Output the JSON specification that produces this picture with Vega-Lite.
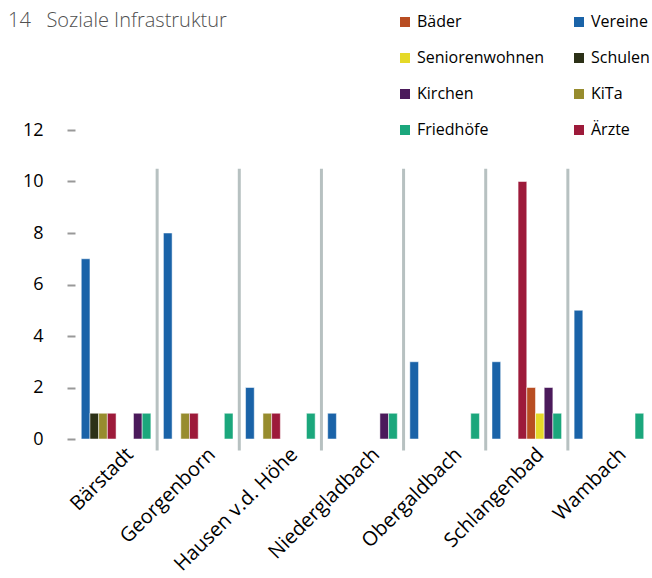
{
  "$schema": "https://vega.github.io/schema/vega-lite/v6.json",
  "width": 575,
  "height": 309,
  "autosize": {"type": "none"},
  "padding": {"left": 75, "top": 130, "right": 2, "bottom": 139},
  "title": {
    "text": "14\u00a0\u00a0\u00a0Soziale Infrastruktur",
    "anchor": "start",
    "frame": "group",
    "dx": -67,
    "dy": 17,
    "font": "Open Sans",
    "fontSize": 20,
    "fontWeight": 300,
    "color": "#505050",
    "offset": 0
  },
  "config": {
    "view": {"stroke": null},
    "font": "Open Sans"
  },
  "data": {
    "values": [
      {"Ort": "Bärstadt", "Kategorie": "Vereine", "Anzahl": 7},
      {"Ort": "Bärstadt", "Kategorie": "Schulen", "Anzahl": 1},
      {"Ort": "Bärstadt", "Kategorie": "KiTa", "Anzahl": 1},
      {"Ort": "Bärstadt", "Kategorie": "Ärzte", "Anzahl": 1},
      {"Ort": "Bärstadt", "Kategorie": "Kirchen", "Anzahl": 1},
      {"Ort": "Bärstadt", "Kategorie": "Friedhöfe", "Anzahl": 1},
      {"Ort": "Georgenborn", "Kategorie": "Vereine", "Anzahl": 8},
      {"Ort": "Georgenborn", "Kategorie": "KiTa", "Anzahl": 1},
      {"Ort": "Georgenborn", "Kategorie": "Ärzte", "Anzahl": 1},
      {"Ort": "Georgenborn", "Kategorie": "Friedhöfe", "Anzahl": 1},
      {"Ort": "Hausen v.d. Höhe", "Kategorie": "Vereine", "Anzahl": 2},
      {"Ort": "Hausen v.d. Höhe", "Kategorie": "KiTa", "Anzahl": 1},
      {"Ort": "Hausen v.d. Höhe", "Kategorie": "Ärzte", "Anzahl": 1},
      {"Ort": "Hausen v.d. Höhe", "Kategorie": "Friedhöfe", "Anzahl": 1},
      {"Ort": "Niedergladbach", "Kategorie": "Vereine", "Anzahl": 1},
      {"Ort": "Niedergladbach", "Kategorie": "Kirchen", "Anzahl": 1},
      {"Ort": "Niedergladbach", "Kategorie": "Friedhöfe", "Anzahl": 1},
      {"Ort": "Obergaldbach", "Kategorie": "Vereine", "Anzahl": 3},
      {"Ort": "Obergaldbach", "Kategorie": "Friedhöfe", "Anzahl": 1},
      {"Ort": "Schlangenbad", "Kategorie": "Vereine", "Anzahl": 3},
      {"Ort": "Schlangenbad", "Kategorie": "Ärzte", "Anzahl": 10},
      {"Ort": "Schlangenbad", "Kategorie": "Bäder", "Anzahl": 2},
      {"Ort": "Schlangenbad", "Kategorie": "Seniorenwohnen", "Anzahl": 1},
      {"Ort": "Schlangenbad", "Kategorie": "Kirchen", "Anzahl": 2},
      {"Ort": "Schlangenbad", "Kategorie": "Friedhöfe", "Anzahl": 1},
      {"Ort": "Wambach", "Kategorie": "Vereine", "Anzahl": 5},
      {"Ort": "Wambach", "Kategorie": "Friedhöfe", "Anzahl": 1}
    ]
  },
  "layer": [
    {
      "transform": [{"filter": "datum.Kategorie === 'Vereine' && datum.Ort !== 'Bärstadt'"}],
      "mark": {"type": "rule", "color": "#b7c1c1", "strokeWidth": 3},
      "encoding": {
        "x": {
          "field": "Ort",
          "type": "nominal",
          "bandPosition": 0,
          "sort": ["Bärstadt", "Georgenborn", "Hausen v.d. Höhe", "Niedergladbach", "Obergaldbach", "Schlangenbad", "Wambach"]
        },
        "y": {"datum": 10.5, "type": "quantitative"},
        "y2": {"datum": -0.45}
      }
    },
    {
      "mark": {"type": "bar", "stroke": "white", "strokeWidth": 1, "strokeOpacity": 0.5},
      "encoding": {
        "x": {
          "field": "Ort",
          "type": "nominal",
          "sort": ["Bärstadt", "Georgenborn", "Hausen v.d. Höhe", "Niedergladbach", "Obergaldbach", "Schlangenbad", "Wambach"],
          "scale": {"paddingInner": 0, "paddingOuter": 0},
          "axis": {
            "title": null,
            "domain": false,
            "ticks": false,
            "labelAngle": -45,
            "labelFontSize": 20,
            "labelColor": "#000000",
            "labelFont": "Open Sans",
            "labelPadding": 12,
            "labelOffset": 14
          }
        },
        "xOffset": {
          "field": "Kategorie",
          "type": "nominal",
          "scale": {
            "domain": ["Vereine", "Schulen", "KiTa", "Ärzte", "Bäder", "Seniorenwohnen", "Kirchen", "Friedhöfe"],
            "paddingInner": 0,
            "paddingOuter": 0.72
          }
        },
        "y": {
          "field": "Anzahl",
          "type": "quantitative",
          "scale": {"domain": [0, 12], "nice": false},
          "axis": {
            "title": null,
            "values": [0, 2, 4, 6, 8, 10, 12],
            "domain": false,
            "grid": false,
            "tickSize": 8,
            "tickWidth": 2,
            "tickColor": "#999999",
            "labelPadding": 24,
            "labelFontSize": 18,
            "labelColor": "#000000",
            "labelFont": "Open Sans"
          }
        },
        "color": {
          "field": "Kategorie",
          "type": "nominal",
          "scale": {
            "domain": ["Bäder", "Seniorenwohnen", "Kirchen", "Friedhöfe", "Vereine", "Schulen", "KiTa", "Ärzte"],
            "range": ["#b84d22", "#e5d928", "#4b1a5b", "#1ba77c", "#1a63a8", "#2c3117", "#978c2e", "#9d1a3a"]
          },
          "legend": {
            "title": null,
            "orient": "none",
            "legendX": 322,
            "legendY": -116,
            "columns": 2,
            "padding": 0,
            "symbolType": "square",
            "symbolSize": 100,
            "symbolStrokeWidth": 0,
            "labelFontSize": 16,
            "labelFont": "Open Sans",
            "labelColor": "#000000",
            "labelOffset": 4,
            "rowPadding": 20,
            "columnPadding": 26
          }
        }
      }
    }
  ]
}
